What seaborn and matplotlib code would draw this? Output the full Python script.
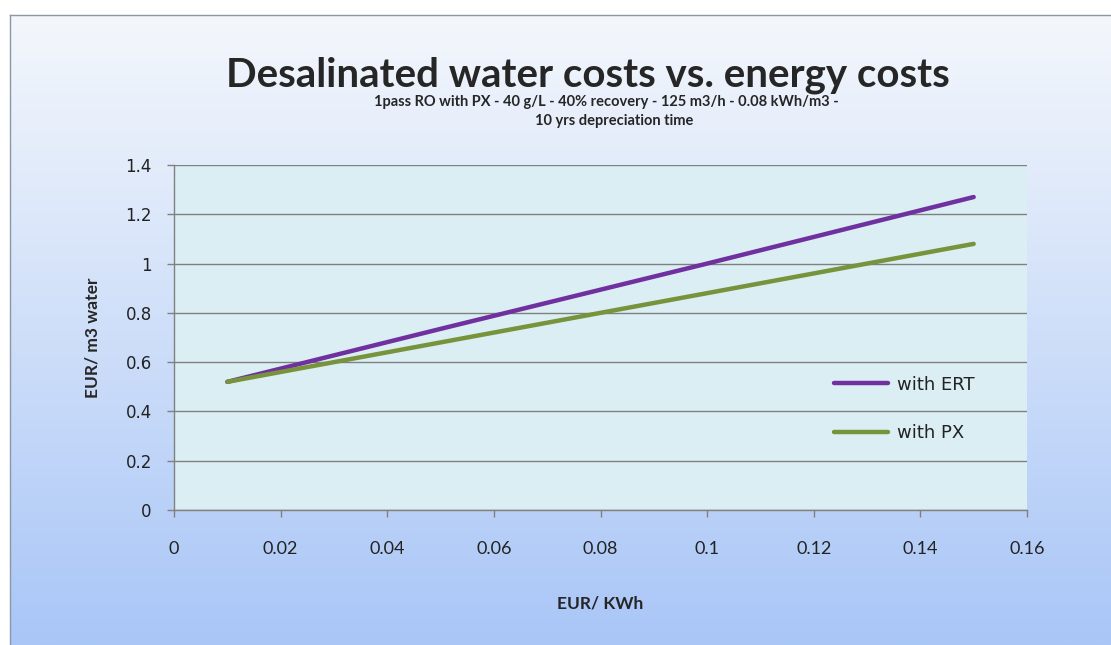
import numpy as np
import pandas as pd
import matplotlib
matplotlib.use("Agg")
import matplotlib.pyplot as plt
import seaborn as sns
from matplotlib.colors import LinearSegmentedColormap

# ---- data ----
energy_cost = [0.01, 0.05, 0.10, 0.15]
cost_ert = [0.52, 0.735, 1.00, 1.27]
cost_px = [0.52, 0.68, 0.88, 1.08]
series_names = ["with ERT", "with PX"]
x_ticks = [0, 0.02, 0.04, 0.06, 0.08, 0.1, 0.12, 0.14, 0.16]
x_tick_labels = ["0", "0.02", "0.04", "0.06", "0.08", "0.1", "0.12", "0.14", "0.16"]
y_ticks = [0, 0.2, 0.4, 0.6, 0.8, 1, 1.2, 1.4]
y_tick_labels = ["0", "0.2", "0.4", "0.6", "0.8", "1", "1.2", "1.4"]

df = pd.DataFrame({
    "x": energy_cost * 2,
    "y": cost_ert + cost_px,
    "series": [series_names[0]] * len(energy_cost) + [series_names[1]] * len(energy_cost),
})

sns.set_style("white")
plt.rcParams["font.family"] = ["DejaVu Sans"]

W, H = 1111, 645
fig = plt.figure(figsize=(W / 100, H / 100), dpi=100, facecolor="white")

# background frame with vertical gradient
bg = fig.add_axes([10 / W, 0, 1 - 10 / W, (H - 15) / H])
grad = np.linspace(0, 1, 256).reshape(-1, 1)
cmap = LinearSegmentedColormap.from_list("g", ["#a9c6f7", "#cfdff9", "#f4f7fc"])
bg.imshow(grad, aspect="auto", cmap=cmap, origin="lower", extent=[0, 1, 0, 1])
bg.set_xticks([]); bg.set_yticks([])
for s in ["right", "bottom"]:
    bg.spines[s].set_visible(False)
for s in ["left", "top"]:
    bg.spines[s].set_color("#8a97a8")
    bg.spines[s].set_linewidth(1.0)

ax = fig.add_axes([174 / W, (H - 510) / H, (1027 - 174) / W, (510 - 165) / H])
ax.set_facecolor("#dbeef3")

sns.lineplot(data=df, x="x", y="y", hue="series",
             palette={"with ERT": "#7030a0", "with PX": "#77933c"},
             linewidth=3.2, ax=ax, legend=True)

ax.set_xlim(0, 0.16)
ax.set_ylim(0, 1.4)
ax.set_xticks(x_ticks)
ax.set_xticklabels(x_tick_labels, fontfamily="Lato", fontsize=13, color="#222222")
ax.set_yticks(y_ticks)
ax.set_yticklabels(y_tick_labels, fontsize=12, color="#222222")
ax.yaxis.grid(True, color="#808080", linewidth=1.0)
ax.xaxis.grid(False)
ax.tick_params(axis="y", length=5, width=1, color="#808080", pad=11, left=True)
ax.tick_params(axis="x", length=5, width=1, color="#808080", pad=17, bottom=True)
for s in ["top", "right"]:
    ax.spines[s].set_visible(False)
for s in ["left", "bottom"]:
    ax.spines[s].set_color("#808080")
    ax.spines[s].set_linewidth(1.0)

ax.set_xlabel("EUR/ KWh", fontfamily="Lato", fontweight="bold", fontsize=12.5, labelpad=28)
ax.set_ylabel("EUR/ m3 water", fontfamily="Lato", fontweight="bold", fontsize=12.5, labelpad=18)

leg = ax.legend(frameon=False, loc="center left", bbox_to_anchor=(0.755, 0.293),
                fontsize=13, handlelength=3.0, labelspacing=1.7, handletextpad=0.5)
for t in leg.get_texts():
    t.set_color("#222222")

fig.text(588 / W, 1 - 75 / H, "Desalinated water costs vs. energy costs",
         ha="center", va="center", fontfamily="Lato", fontweight="bold", fontsize=29)
fig.text(606 / W, 1 - 102 / H, "1pass RO with PX - 40 g/L - 40% recovery - 125 m3/h - 0.08 kWh/m3 -",
         ha="center", va="center", fontfamily="Lato", fontweight="bold", fontsize=10.5)
fig.text(614 / W, 1 - 121 / H, "10 yrs depreciation time",
         ha="center", va="center", fontfamily="Lato", fontweight="bold", fontsize=10.5)

fig.savefig("out.png", dpi=100, facecolor="white")
